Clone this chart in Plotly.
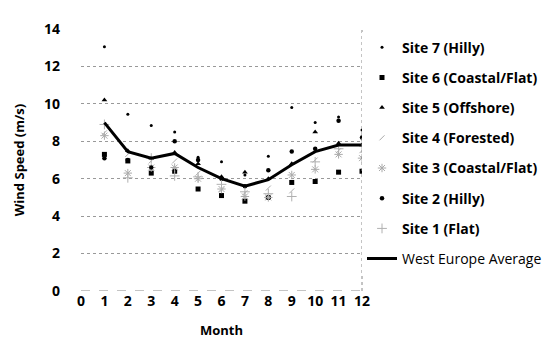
import plotly.graph_objects as go

months = list(range(1, 13))
x_ticks = list(range(0, 13))
y_ticks = list(range(0, 15, 2))

site7 = [13.05, 9.45, 8.85, 8.5, 7.15, 6.9, 6.2, 7.2, 9.8, 9.0, 9.3, 8.6]
site6 = [7.3, 6.95, 6.3, 6.4, 5.45, 5.1, 4.8, 5.0, 5.8, 5.85, 6.35, 6.4]
site5 = [10.2, 7.5, 7.1, 7.4, 6.8, 6.1, 6.35, 6.0, 6.8, 8.5, 7.9, 7.8]
site4 = [8.45, 7.3, 6.95, 6.95, 6.3, 5.4, 5.25, 5.5, 5.35, 7.0, 7.5, 7.5]
site3 = [8.3, 6.3, 6.6, 6.6, 6.0, 5.45, 5.05, 5.0, 6.2, 6.5, 7.3, 7.1]
site2 = [7.1, 7.0, 6.6, 8.0, 7.0, 6.0, 5.6, 6.45, 7.45, 7.6, 9.1, 8.2]
site1 = [8.9, 6.05, 7.1, 6.15, 6.1, 5.7, 5.3, 5.2, 5.05, 6.9, 7.6, 7.8]
average = [9.0, 7.45, 7.1, 7.35, 6.6, 6.0, 5.6, 5.95, 6.75, 7.45, 7.8, 7.8]

series = [
    ("Site 7 (Hilly)", site7, dict(symbol="circle", size=3, color="black")),
    ("Site 6 (Coastal/Flat)", site6, dict(symbol="square", size=5, color="black")),
    ("Site 5 (Offshore)", site5, dict(symbol="triangle-up", size=5, color="black")),
    ("Site 4 (Forested)", site4, dict(symbol="line-ne", size=5, color="#aaaaaa",
                                      line=dict(width=1, color="#aaaaaa"))),
    ("Site 3 (Coastal/Flat)", site3, dict(symbol="asterisk-open", size=7, color="#aaaaaa",
                                          line=dict(width=1, color="#aaaaaa"))),
    ("Site 2 (Hilly)", site2, dict(symbol="circle", size=4.5, color="black")),
    ("Site 1 (Flat)", site1, dict(symbol="cross-thin-open", size=7, color="#b0b0b0",
                                  line=dict(width=1, color="#b0b0b0"))),
]

font = "Open Sans"
fig = go.Figure()
for i, (name, vals, mk) in enumerate(series):
    fig.add_trace(go.Scatter(x=months, y=vals, mode="markers", name=f"<b>{name}</b>",
                             marker=mk, legendgroup=f"g{i}"))
fig.add_trace(go.Scatter(x=months, y=average, mode="lines", name="West Europe Average",
                         line=dict(color="black", width=3), legendgroup="avg"))

fig.update_layout(
    width=551, height=348,
    margin=dict(l=73, r=197, t=21, b=65),
    paper_bgcolor="white", plot_bgcolor="white",
    font=dict(family=font, size=14, color="black", weight="bold"),
    showlegend=True,
    legend=dict(x=1.0, y=0.99, xanchor="left", yanchor="top",
                traceorder="grouped", tracegroupgap=9,
                font=dict(family=font, size=14, color="black", weight="normal"),
                itemwidth=30),
    xaxis=dict(range=[0, 12], tickvals=x_ticks, showgrid=False, zeroline=False,
               showline=False, ticks="", ticklabelstandoff=0,
               tickfont=dict(family=font, size=14, weight="bold"),
               title=dict(text="Month", standoff=16,
                          font=dict(family=font, size=13, weight="bold"))),
    yaxis=dict(range=[0, 14], tickvals=y_ticks, showgrid=True, gridcolor="#999999",
               griddash="dot", gridwidth=1, zeroline=False, showline=False,
               ticks="", ticklabelstandoff=20,
               tickfont=dict(family=font, size=14, weight="bold"),
               title=dict(text="Wind Speed (m/s)", standoff=16,
                          font=dict(family=font, size=13, weight="bold"))),
    shapes=[
        dict(type="line", xref="paper", yref="paper", x0=1, x1=1, y0=0, y1=1,
             line=dict(color="#888888", width=1, dash="dot")),
        dict(type="line", xref="paper", yref="y", x0=0, x1=1, y0=0, y1=0,
             line=dict(color="#888888", width=1, dash="dash")),
    ],
)

fig.write_html("out.html")
